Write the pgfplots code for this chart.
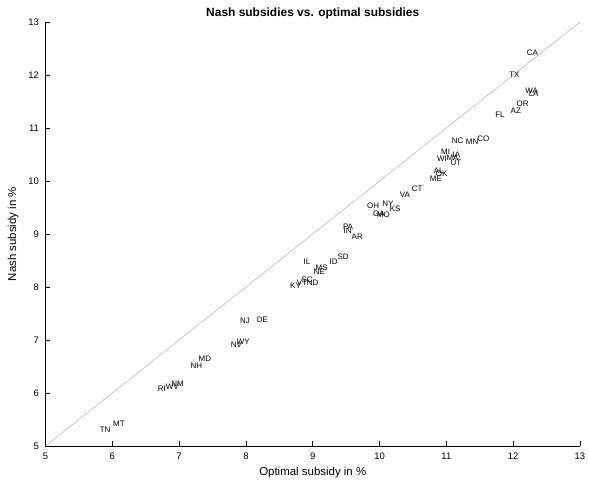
\documentclass[border=0pt]{standalone}
\usepackage{fontspec}
\setmainfont{Liberation Sans}
\usepackage{pgfplots}
\pgfplotsset{compat=1.18}
\begin{document}
\begin{tikzpicture}
\begin{axis}[
  at={(0,0)}, anchor=south west,
  scale only axis, width=534.5bp, height=424bp,
  xmin=5, xmax=13, ymin=5, ymax=13,
  xtick={5,...,13}, ytick={5,...,13},
  axis x line=bottom, axis y line=left,
  axis line style={-, black, line width=0.6pt},
  tick align=inside, major tick length=5bp,
  tick style={black, line width=0.6pt},
  /pgf/number format/assume math mode=true,
  ticklabel style={font=\fontsize{9.5}{11}\selectfont},
  xticklabel style={yshift=-3bp},
  yticklabel style={xshift=-3bp},
  xlabel={Optimal subsidy in \%},
  ylabel={Nash subsidy in \%},
  label style={font=\fontsize{11.5}{13}\selectfont},
  xlabel style={yshift=-1bp},
  ylabel style={yshift=3bp},
  title={\bfseries Nash subsidies vs. optimal subsidies},
  title style={font=\fontsize{12}{14}\selectfont, yshift=-6bp},
  clip=false,
]
\addplot[gray!55, line width=0.6pt, no markers] coordinates {(5,5) (13,13)};
\addplot[only marks, mark=none, nodes near coords, point meta=explicit symbolic,
  nodes near coords align={anchor=west},
  every node near coord/.append style={inner sep=0pt, font=\fontsize{8}{9}\selectfont}]
 table[meta=label] {
x y label
12.20 12.415 CA
11.94 12.00 TX
12.18 11.70 WA
12.23 11.64 LA
12.05 11.45 OR
11.96 11.32 AZ
11.73 11.25 FL
11.08 10.75 NC
11.29 10.74 MN
11.46 10.79 CO
10.92 10.55 MI
11.09 10.49 IA
10.86 10.42 WI
11.00 10.43 MA
11.06 10.34 UT
10.81 10.19 AL
10.84 10.13 OK
10.75 10.04 ME
10.48 9.85 CT
10.30 9.74 VA
10.04 9.58 NY
10.15 9.47 KS
9.81 9.53 OH
9.90 9.38 GA
9.96 9.36 MO
9.45 9.13 PA
9.46 9.06 IN
9.58 8.94 AR
8.86 8.47 IL
9.04 8.36 MS
9.01 8.28 NE
9.25 8.47 ID
9.37 8.57 SD
8.83 8.13 SC
8.66 8.02 KY
8.76 8.08 VT
8.91 8.08 ND
7.91 7.36 NJ
8.16 7.38 DE
7.77 6.91 NV
7.86 6.96 WY
7.29 6.64 MD
7.17 6.51 NH
6.68 6.08 RI
6.80 6.11 WV
6.88 6.17 NM
5.81 5.30 TN
6.01 5.42 MT
};
\end{axis}
\pgfresetboundingbox
\path[use as bounding box] (-45.5bp,-39bp) rectangle (543.5bp,446bp);
\end{tikzpicture}
\end{document}
